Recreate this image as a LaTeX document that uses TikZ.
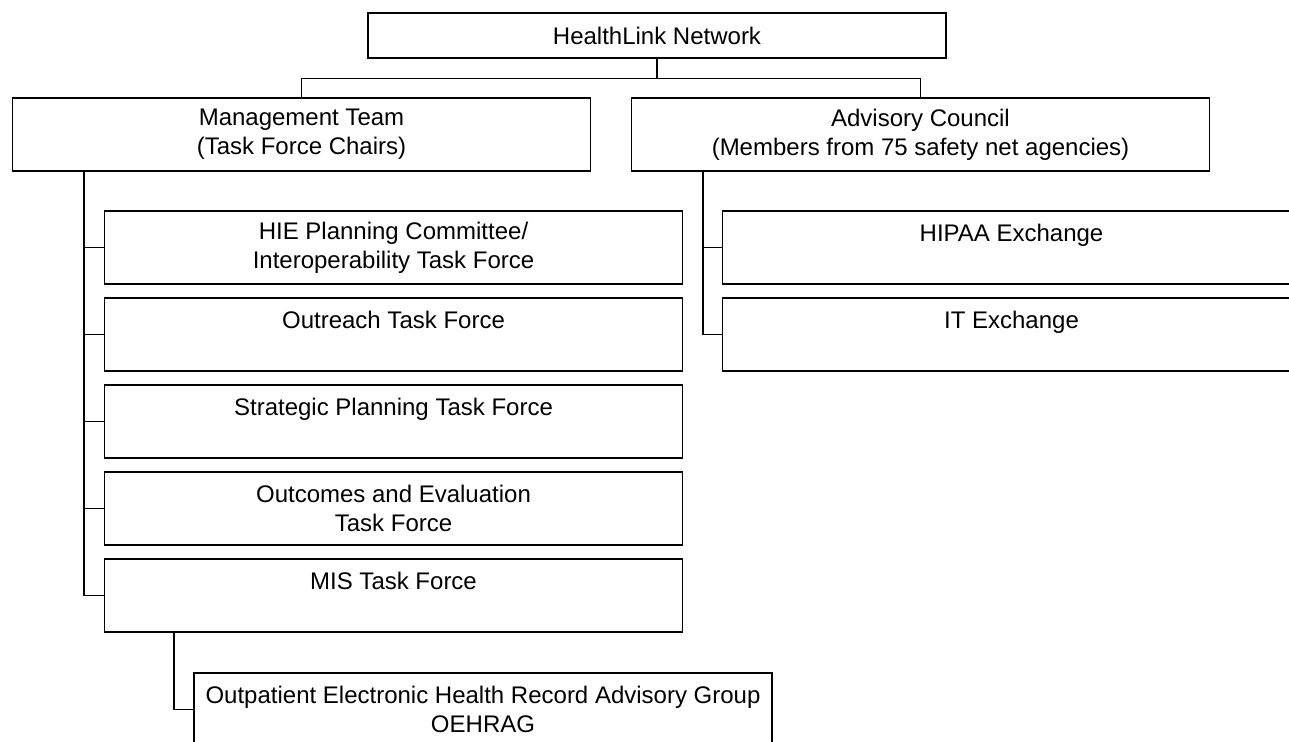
\documentclass[tikz,border=0pt]{standalone}
\usepackage{fontspec}
\setmainfont{Liberation Sans}
\usetikzlibrary{positioning}

\begin{document}
\begin{tikzpicture}[x=0.5pt, y=-0.5pt,
        box/.style={rectangle, draw=black, line width=0.7pt, minimum width=289pt, minimum height=36.5pt, inner sep=1pt, align=center, font=\fontsize{12}{14.5}\selectfont},
        topbox/.style={box, minimum height=22.5pt},
        link/.style={line width=0.7pt}
    ]
        \useasboundingbox (0,0) rectangle (1289,741);
        \clip (0,0) rectangle (1289,741);

        \node[topbox] (network) at (657,35.5) {HealthLink Network};
        \node[box] (mgmt) at (301.5,134.5) {Management Team\\(Task Force Chairs)};
        \node[box] (advisory) at (920.5,134.5) {Advisory Council\\(Members from 75 safety net agencies)};

        \node[box] (hie) at (393.5,247.5) {HIE Planning Committee/\\Interoperability Task Force};
        \node[box] (outreach) at (393.5,334.5) {Outreach Task Force\\~};
        \node[box] (strategic) at (393.5,421.5) {Strategic Planning Task Force\\~};
        \node[box] (outcomes) at (393.5,508.5) {Outcomes and Evaluation\\Task Force};
        \node[box] (mis) at (393.5,595.5) {MIS Task Force\\~};
        \node[box] (oehrag) at (483,709.5) {Outpatient Electronic Health Record Advisory Group\\OEHRAG};

        \node[box] (hipaa) at (1011.5,247.5) {HIPAA Exchange\\~};
        \node[box] (itex) at (1011.5,334.5) {IT Exchange\\~};

        % stems of the elbow connectors
        \coordinate (split) at ([yshift=-10pt]network.south);
        \coordinate (mgmtstem) at ([xshift=36pt]mgmt.south west);
        \coordinate (advstem) at ([xshift=36pt]advisory.south west);
        \coordinate (misstem) at ([xshift=35pt]mis.south west);

        \draw[link] (network) -- (split);
        \draw[link] (split) -| (mgmt.north);
        \draw[link] (split) -| (advisory.north);

        \foreach \task in {hie,outreach,strategic,outcomes,mis}
            \draw[link] (mgmtstem) |- (\task.west);
        \foreach \exch in {hipaa,itex}
            \draw[link] (advstem) |- (\exch.west);
        \draw[link] (misstem) |- (oehrag.west);
    \end{tikzpicture}
\end{document}
